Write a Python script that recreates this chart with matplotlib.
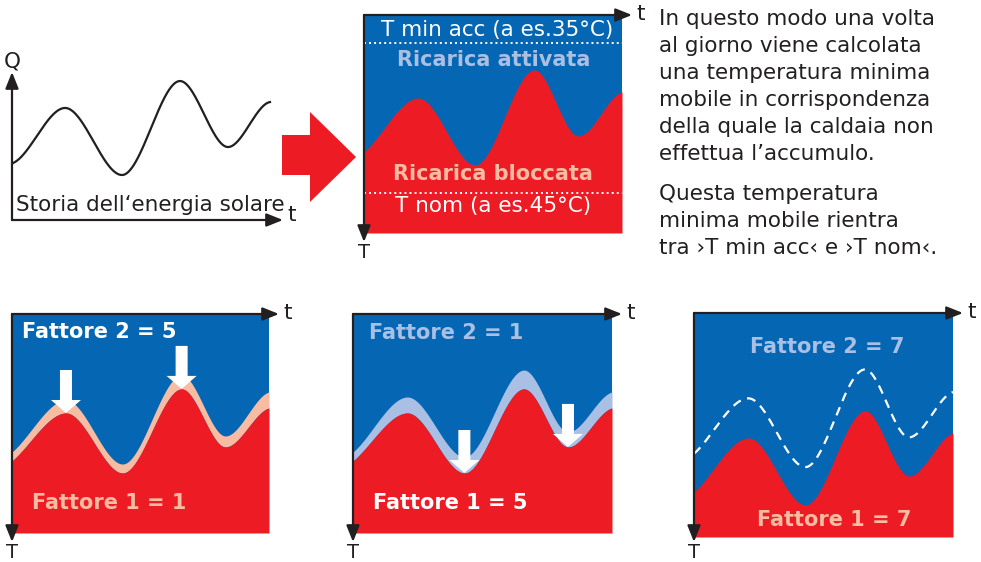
import numpy as np
import matplotlib.pyplot as plt
from matplotlib.patches import Polygon

# colours
BLUE = '#0567b3'
RED = '#ed1c24'
SALMON = '#f8bca3'
LBLUE = '#a9c0e4'
INK = '#231f20'

# ---- data ----
# energy history (top left), Q goes up
sol_x = [0.004, 0.196, 0.406, 0.62, 0.797, 0.952]
sol_q = [0.385, 0.757, 0.304, 0.939, 0.493, 0.797]
sol_slope = [0.8, 0, 0, 0, 0, 0.3]

# temperature panels, T goes down (0 = top of box, 1 = bottom)
wave_x = [0.0, 0.21, 0.43, 0.66, 0.83, 1.0]
wave_slope = [-1.0, 0, 0, 0, 0, -0.3]
base_t = [0.628, 0.381, 0.688, 0.252, 0.555, 0.353]      # top middle + dashed in panel C
red_ab = [0.671, 0.452, 0.726, 0.342, 0.607, 0.429]      # panels A and B
band_a = [0.630, 0.393, 0.685, 0.279, 0.557, 0.356]      # salmon band top, panel A
band_b = [0.630, 0.379, 0.653, 0.256, 0.539, 0.356]      # light blue band top, panel B
red_c = [0.799, 0.558, 0.857, 0.437, 0.728, 0.536]       # panel C
t_min_acc_level = 0.128
t_nom_level = 0.817
arrows_a = [1, 3]   # arrows on peaks
arrows_b = [2, 4]   # arrows on troughs

para1 = ["In questo modo una volta", "al giorno viene calcolata",
         "una temperatura minima", "mobile in corrispondenza",
         "della quale la caldaia non", "effettua l\u2019accumulo."]
para2 = ["Questa temperatura", "minima mobile rientra",
         "tra \u203aT min acc\u2039 e \u203aT nom\u2039."]

FS = 15.5     # regular text
FSB = 15      # bold labels

W, H = 981, 562
fig = plt.figure(figsize=(9.81, 5.62), dpi=100)
fig.patch.set_facecolor('white')


def hermite(xk, yk, mk, t):
    xk, yk, mk = np.asarray(xk), np.asarray(yk), np.asarray(mk)
    i = np.clip(np.searchsorted(xk, t) - 1, 0, len(xk) - 2)
    h = xk[i + 1] - xk[i]
    s = (t - xk[i]) / h
    return ((2*s**3 - 3*s**2 + 1) * yk[i] + (s**3 - 2*s**2 + s) * h * mk[i]
            + (-2*s**3 + 3*s**2) * yk[i + 1] + (s**3 - s**2) * h * mk[i + 1])


def panel(x0, y0, x1, y1, flip=True):
    ax = fig.add_axes([x0 / W, 1 - y1 / H, (x1 - x0) / W, (y1 - y0) / H])
    ax.set_xlim(0, 1)
    ax.set_ylim((1, 0) if flip else (0, 1))
    ax.axis('off')
    ax.pxw, ax.pxh = x1 - x0, y1 - y0
    return ax


def arrow(ax, start, end):
    ax.annotate('', xy=end, xytext=start, annotation_clip=False,
                arrowprops=dict(arrowstyle='-|>,head_length=0.55,head_width=0.22',
                                mutation_scale=18, color=INK, lw=1.6,
                                shrinkA=0, shrinkB=0))


def t_axes(ax, ext=10, ext_down=9):
    ex, ey = ext / ax.pxw, ext_down / ax.pxh
    arrow(ax, (0, 0), (1 + ex, 0))
    arrow(ax, (0, 0), (0, 1 + ey))
    ax.annotate('t', (1 + ex, 0), xytext=(3, 1), textcoords='offset points',
                ha='left', va='center', fontsize=FS, color=INK, annotation_clip=False)
    ax.annotate('T', (0, 1 + ey), xytext=(0, -7.5), textcoords='offset points',
                ha='center', va='center', fontsize=14, color=INK, annotation_clip=False)


def white_arrow(ax, x, tip):
    sw, hw, hl, L = 12 / ax.pxw, 30 / ax.pxw, 13 / ax.pxh, 43 / ax.pxh
    pts = [(x - sw/2, tip - L), (x + sw/2, tip - L), (x + sw/2, tip - hl),
           (x + hw/2, tip - hl), (x, tip), (x - hw/2, tip - hl), (x - sw/2, tip - hl)]
    ax.add_patch(Polygon(pts, closed=True, color='white', lw=0, zorder=5))


xs = np.linspace(0, 1, 400)

# background axes in pixels for the big arrow and the paragraph
bg = fig.add_axes([0, 0, 1, 1], zorder=-1)
bg.set_xlim(0, W)
bg.set_ylim(H, 0)
bg.axis('off')
bg.add_patch(Polygon([(282, 135), (310, 135), (310, 112), (356, 157),
                      (310, 202), (310, 175), (282, 175)], color=RED, lw=0))
for i, line in enumerate(para1):
    bg.text(659, 19 + 27 * i, line, ha='left', va='center', fontsize=FS, color=INK)
for i, line in enumerate(para2):
    bg.text(659, 194 + 27 * i, line, ha='left', va='center', fontsize=FS, color=INK)

# ---- energy history ----
ax1 = panel(12, 72, 283, 220, flip=False)
xe = np.linspace(sol_x[0], sol_x[-1], 400)
ax1.plot(xe, hermite(sol_x, sol_q, sol_slope, xe), color=INK, lw=1.6)
arrow(ax1, (0, 0), (1, 0))
arrow(ax1, (0, 0), (0, 1))
ax1.text(0, 1.068, 'Q', ha='center', va='center', fontsize=FS, color=INK)
ax1.text(1.015, 0.035, 't', ha='left', va='center', fontsize=FS, color=INK)
ax1.text(0.015, 0.10, 'Storia dell\u2018energia solare', ha='left', va='center',
         fontsize=FS, color=INK)

# ---- top middle ----
ax2 = panel(364, 15, 622, 233)
ax2.fill_between(xs, 0, 1, color=BLUE, lw=0)
ax2.fill_between(xs, hermite(wave_x, base_t, wave_slope, xs), 1, color=RED, lw=0)
for lvl in [t_min_acc_level, t_nom_level]:
    ax2.plot([0, 1], [lvl, lvl], color='white', lw=1.4, ls=(0, (1, 1.6)))
ax2.text(0.516, 0.069, 'T min acc (a es.35\u00b0C)', ha='center', va='center',
         fontsize=FS, color='white')
ax2.text(0.504, 0.206, 'Ricarica attivata', ha='center', va='center',
         fontsize=FSB, fontweight='bold', color=LBLUE)
ax2.text(0.50, 0.729, 'Ricarica bloccata', ha='center', va='center',
         fontsize=FSB, fontweight='bold', color=SALMON)
ax2.text(0.50, 0.876, 'T nom (a es.45\u00b0C)', ha='center', va='center',
         fontsize=FS, color='white')
t_axes(ax2)

# ---- bottom panels ----
specs = [
    ((12, 314, 269, 533), band_a, SALMON, red_ab, arrows_a,
     ('Fattore 2 = 5', 0.039, 0.082, 'white'), ('Fattore 1 = 1', 0.078, 0.863, SALMON)),
    ((353, 314, 612, 533), band_b, LBLUE, red_ab, arrows_b,
     ('Fattore 2 = 1', 0.062, 0.087, LBLUE), ('Fattore 1 = 5', 0.077, 0.863, 'white')),
    ((694, 313, 953, 537), None, None, red_c, [],
     ('Fattore 2 = 7', 0.216, 0.152, LBLUE), ('Fattore 1 = 7', 0.243, 0.924, SALMON)),
]
for box, band, bcol, red, arr, lab2, lab1 in specs:
    ax = panel(*box)
    ax.fill_between(xs, 0, 1, color=BLUE, lw=0)
    red_curve = hermite(wave_x, red, wave_slope, xs)
    if band is not None:
        ax.fill_between(xs, hermite(wave_x, band, wave_slope, xs), red_curve,
                        color=bcol, lw=0)
    else:
        ax.plot(xs, hermite(wave_x, base_t, wave_slope, xs), color='white',
                lw=1.6, ls=(0, (4, 3)))
    ax.fill_between(xs, red_curve, 1, color=RED, lw=0)
    for k in arr:
        white_arrow(ax, wave_x[k], red[k])
    for txt, x, y, c in (lab2, lab1):
        ax.text(x, y, txt, ha='left', va='center', fontsize=FSB,
                fontweight='bold', color=c)
    t_axes(ax, ext_down=9 if box[3] < 535 else 5)

fig.savefig('out.png', dpi=100)
